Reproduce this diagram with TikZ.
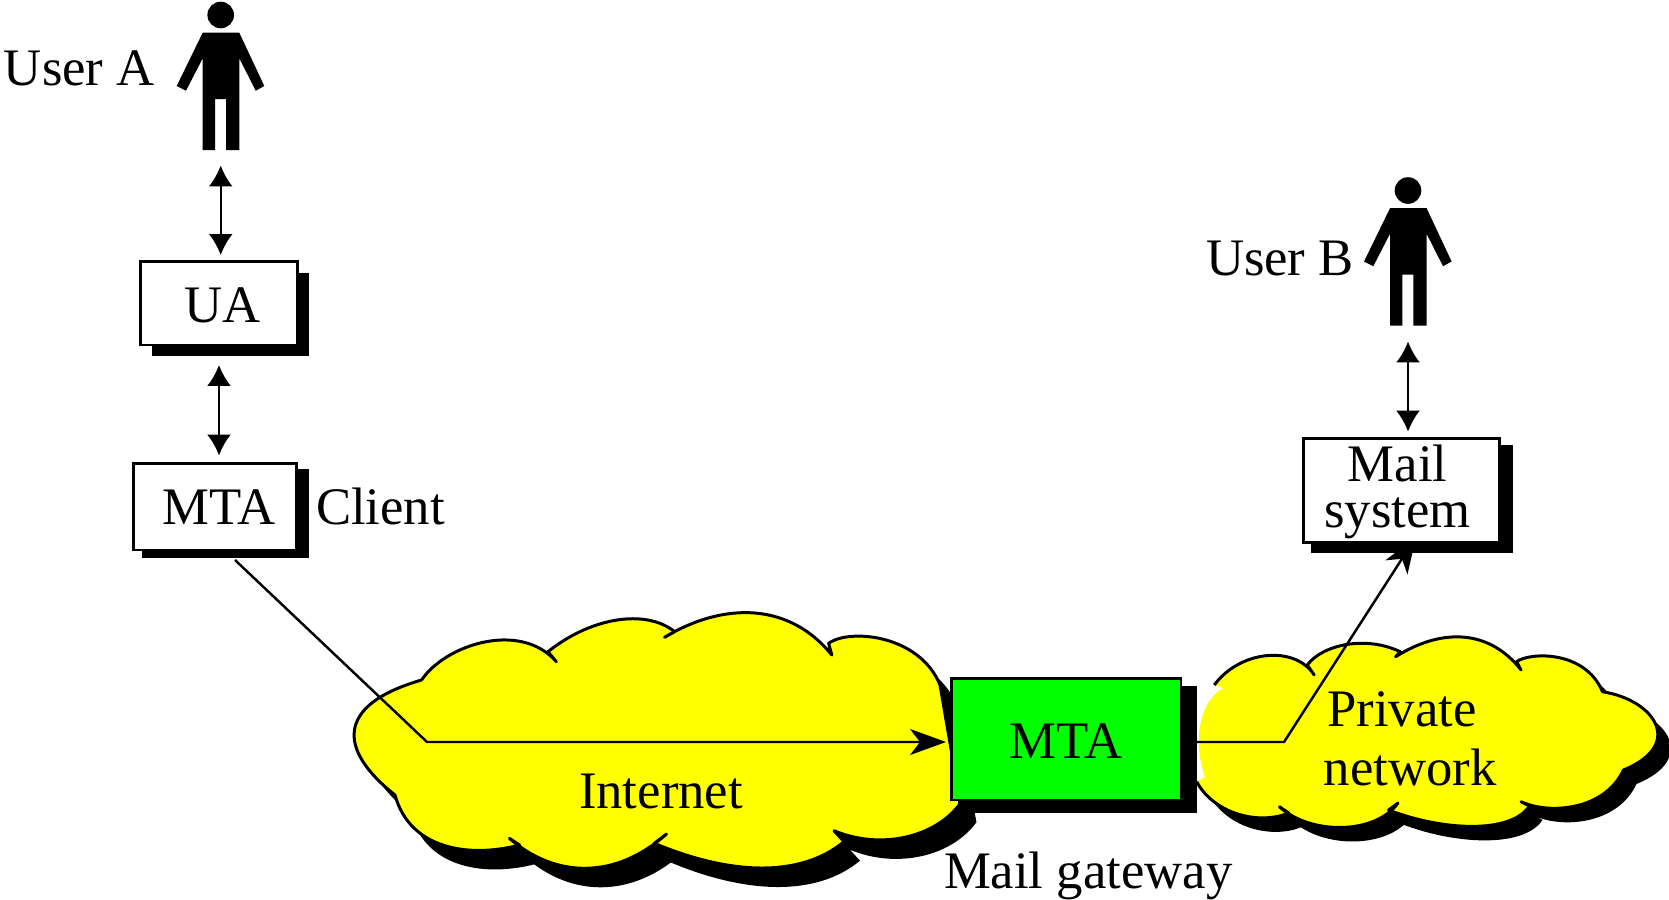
\documentclass[tikz,border=0pt]{standalone}
\usepackage{fontspec}
\setmainfont{Liberation Serif}
\usetikzlibrary{arrows.meta,shadows}

\definecolor{cloudyellow}{RGB}{255,255,0}
\definecolor{gatewaygreen}{RGB}{0,255,0}

\def\internetoutline{(421.6,680) .. controls (445,645) and (520,620) .. (556.3,661.7)
  -- (548,651.7) .. controls (590,618) and (645,608) .. (674.7,631.7)
  -- (664.5,637.3) .. controls (725,601) and (790,603) .. (831.8,655)
  -- (828.6,643.3) .. controls (850,628) and (920,635) .. (940,685)
  -- (960.4,803.3) .. controls (935,838) and (880,850) .. (834,830.7)
  -- (844,841.7) .. controls (800,878) and (730,875) .. (654.3,843.3)
  -- (666.5,834) .. controls (615,880) and (555,878) .. (509.4,838.3)
  -- (519.6,845) .. controls (470,858) and (410,850) .. (395,795)
  .. controls (338,750) and (335,705) .. (421.6,680)}
\def\privateoutline{(1214.3,685) .. controls (1240,650) and (1295,645) .. (1314.2,675)
  -- (1307.3,665) .. controls (1322,645) and (1365,635) .. (1400.2,651.7)
  -- (1395.6,656.7) .. controls (1443,627) and (1490,630) .. (1521.1,670)
  -- (1516.5,661.7) .. controls (1530,652) and (1585,650) .. (1602.5,691.7)
  .. controls (1655,700) and (1685,745) .. (1623.4,770)
  .. controls (1605,810) and (1550,815) .. (1521,801.7)
  -- (1529.5,806) .. controls (1510,835) and (1440,830) .. (1388.6,810)
  -- (1398,803) .. controls (1375,835) and (1310,835) .. (1279.4,806.7)
  -- (1288.7,813) .. controls (1260,825) and (1215,815) .. (1196.6,781.7)}

\begin{document}
\begin{tikzpicture}[x=0.02cm, y=-0.02cm,
    every node/.style={font=\fontsize{30}{26}\selectfont, inner sep=0pt, outer sep=0pt},
    agentbox/.style n args={3}{draw, line width=1.7pt, fill=#1, align=center,
        minimum width=#2cm, minimum height=#3cm},
    boxshadow/.style n args={3}{drop shadow={shadow xshift=#1cm, shadow yshift=-#2cm,
        shadow scale=#3, fill=black, opacity=1}},
    boxtext/.style={text height=22.5pt, text depth=0pt},
    caption/.style={anchor=base west},
    dblarrow/.style={{Latex[length=0.42cm,width=0.48cm]}-{Latex[length=0.42cm,width=0.48cm]}, line width=1.3pt},
    flowline/.style={line width=1.4pt},
    cloudline/.style={line width=1.7pt, line join=round},
    person/.pic={
        \fill (0,0) circle (13.3);
        \fill (-18,17.7) -- (18.6,17.7) -- (43.6,71) -- (35,75.7) -- (18.6,43.3) -- (18.6,135)
            -- (5.3,135) -- (5.3,84) -- (-5.7,84) -- (-5.7,135) -- (-18,135) -- (-18,43.3)
            -- (-34.7,75.7) -- (-44,71) -- cycle;
    }]
    \useasboundingbox (0,0) rectangle (1669,899);

    % clouds
    \fill[black, shift={(16,19)}] \internetoutline -- cycle;
    \fill[cloudyellow] \internetoutline -- cycle;
    \draw[cloudline] \internetoutline;

    \fill[black, shift={(13,14)}] \privateoutline -- cycle;
    \fill[white] (1197,698) -- (1224,688) -- (1197,740) -- (1205,777) -- (1197,773) -- cycle;
    \fill[cloudyellow] \privateoutline -- (1205,777) .. controls (1192,740) and (1200,700) .. (1223.6,688) -- cycle;
    \draw[cloudline] \privateoutline;

    % users
    \node[minimum width=1.76cm, minimum height=3cm] (usera) at (220.7,75) {};
    \pic at (220.7,15) {person};
    \node[minimum width=1.76cm, minimum height=3cm] (userb) at (1408,250.5) {};
    \pic at (1408,190.5) {person};
    \node[caption] (useralabel) at (4,85) {User A};
    \node[caption] (userblabel) at (1206,275) {User B};

    % this one goes under the box
    \coordinate (privatein) at (1196.6,742);
    \coordinate (privatebend) at (1284,742);
    \coordinate (mailsystip) at (1416,537);
    \draw[flowline, -{Stealth[length=0.72cm,width=0.52cm,inset=0.2cm]}]
        (privatein) -- (privatebend) -- (mailsystip);

    % boxes
    \node[agentbox={white}{3.13}{1.68}, boxshadow={0.23}{0.23}{1}, boxtext] (ua) at (219,303) {\hspace*{3.6pt}UA};
    \node[agentbox={white}{3.26}{1.74}, boxshadow={0.2}{0.14}{1.025}, boxtext, text height=21pt] (clientmta) at (215,506.5) {\hspace*{4.4pt}MTA};
    \node[agentbox={white}{3.93}{2.09}, boxshadow={0.2}{0.17}{1.03}] (mailsys) at (1401.5,490.3)
        {\rule{0pt}{22.5pt}Mail\hspace*{4.5pt}\\[0.5pt]system\hspace*{4.5pt}};
    \node[agentbox={gatewaygreen}{4.6}{2.44}, boxshadow={0.22}{0.2}{1.04}, boxtext] (gateway) at (1066,739) {MTA};

    \node[caption] (clientlabel) at (316,524) {Client};
    \node[caption] (gatewaylabel) at (944,888) {Mail gateway};
    \node[anchor=base] (internetlabel) at (661,808) {Internet};
    \node[anchor=base] (privatelabel) at (1402,726) {Private};
    \node[anchor=base] (networklabel) at (1410,785.5) {network};

    % connectors
    \coordinate (inetbend) at (427,742);

    \draw[dblarrow, shorten <=0.31cm, shorten >=0.12cm] (usera.south) -- (usera.south |- ua.north);
    \draw[dblarrow, shorten <=0.4cm, shorten >=0.15cm] (ua.south) -- (ua.south |- clientmta.north);
    \draw[dblarrow, shorten <=0.32cm, shorten >=0.13cm] (userb.south) -- (userb.south |- mailsys.north);

    \draw[flowline, -{Stealth[length=0.72cm,width=0.52cm,inset=0.2cm]}, shorten >=0.1cm]
        ([xshift=0.4cm,yshift=-0.2cm]clientmta.south) -- (inetbend) -- (inetbend -| gateway.west);
\end{tikzpicture}
\end{document}
